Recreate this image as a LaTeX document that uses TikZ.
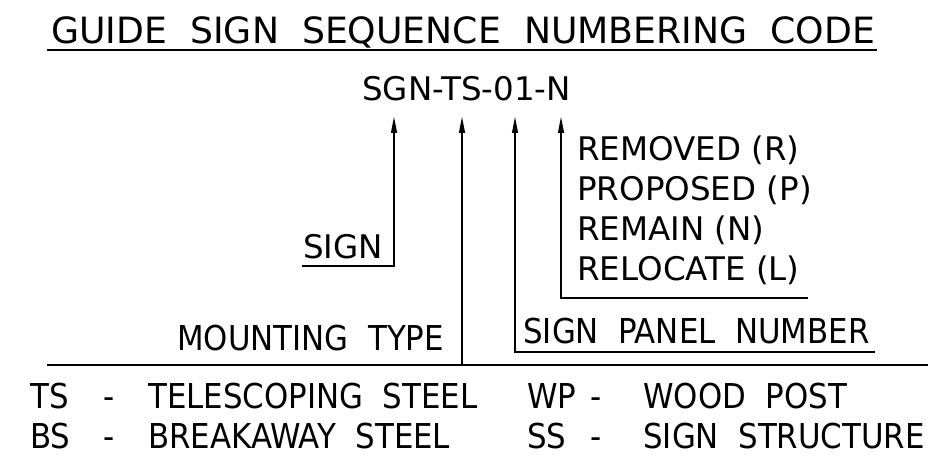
\documentclass[tikz,border=0pt]{standalone}
\usepackage{fontspec}
\setmainfont{DejaVu Sans}
\newfontfamily\condfont{DejaVu Sans Condensed}
\usetikzlibrary{arrows.meta}
\tikzset{
  lbl/.style={anchor=base west, inner sep=0pt, font=\fontsize{18.5}{20}\selectfont},
  clbl/.style={anchor=base west, inner sep=0pt, font=\condfont\fontsize{19.5}{21}\selectfont},
  lead/.style={line width=0.6pt, -{Triangle[length=3.2mm,width=1.2mm]}},
  rule/.style={line width=0.6pt}
}
\begin{document}
\begin{tikzpicture}[x=0.02cm,y=-0.02cm]
\useasboundingbox (0,0) rectangle (946,466);
% title
\node[lbl, font=\fontsize{20.6}{22}\selectfont] (title) at (51,44) {GUIDE\ \ SIGN\ \ SEQUENCE\ \ NUMBERING\ \ CODE};
\draw[rule] (47,50) -- (877,50);
\node[lbl] (code) at (362,101) {SGN-TS-01-N};
% arrow tips under the code
\coordinate (tipsgn) at (394,117);
\coordinate (tipmt) at (462,117);
\coordinate (tippn) at (515,117);
\coordinate (tipst) at (561,117);
% sign
\node[lbl] (sign) at (303,258) {SIGN};
\draw[lead] (302,266) -- (394,266) -- (tipsgn);
% status
\node[lbl] (rem) at (577,160) {REMOVED (R)};
\node[lbl] (prop) at (577,200) {PROPOSED (P)};
\node[lbl] (remain) at (577,240) {REMAIN (N)};
\node[lbl] (reloc) at (577,280) {RELOCATE (L)};
\draw[lead] (808,298) -- (561,298) -- (tipst);
% panel number
\node[clbl] (panel) at (523,343) {SIGN\ \ PANEL\ \ NUMBER};
\draw[lead] (875,352) -- (515,352) -- (tippn);
% mounting type
\node[clbl] (mount) at (177,350) {MOUNTING\ \ TYPE};
\coordinate (mbase) at (462,365);
\draw[lead] (mbase) -- (tipmt);
\draw[rule] (47,365) -- (928,365);
% mounting codes
\foreach \y/\a/\b/\c/\d in {408/TS/TELESCOPING\ \ STEEL/WP/WOOD\ \ POST, 448/BS/BREAKAWAY\ \ STEEL/SS/SIGN\ \ STRUCTURE}{
  \node[clbl] (\a) at (30,\y) {\a};
  \node[clbl] at (103,\y) {-};
  \node[clbl] at (148,\y) {\b};
  \node[clbl] (\c) at (527,\y) {\c};
  \node[clbl] at (590,\y) {-};
  \node[clbl] at (643,\y) {\d};
}
\end{tikzpicture}
\end{document}
